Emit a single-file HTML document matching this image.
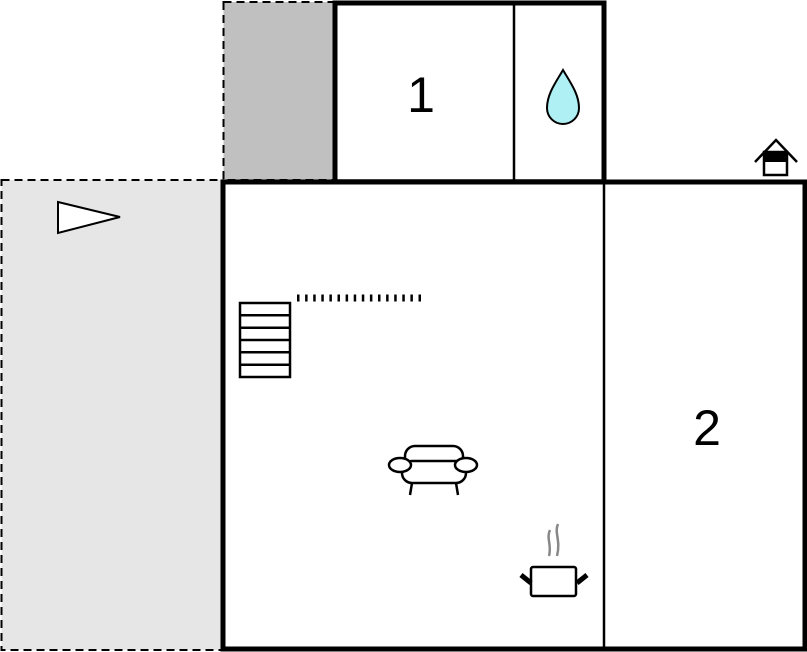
<!DOCTYPE html>
<html><head><meta charset="utf-8"><style>html,body{margin:0;padding:0;background:#fff;}svg{display:block}</style></head>
<body>
<svg width="807" height="652" viewBox="0 0 807 652" xmlns="http://www.w3.org/2000/svg">
<rect x="1.5" y="180" width="222" height="470" fill="#e6e6e6" stroke="#000" stroke-width="2" stroke-dasharray="8,5"/>
<rect x="223.5" y="2" width="112" height="178" fill="#c0c0c0" stroke="#000" stroke-width="2" stroke-dasharray="8,5"/>
<rect x="224" y="180" width="580" height="467" fill="#fff" stroke="none"/>
<rect x="337" y="3" width="266" height="177" fill="#fff"/>
<path d="M223,182 H805 V649 H223 Z" fill="none" stroke="#000" stroke-width="5"/>
<path d="M335,182 V3 H604 V182" fill="none" stroke="#000" stroke-width="5"/>
<path d="M514,3 V180 M604,180 V649 M335,180.5 H605" stroke="#000" stroke-width="2.5" fill="none"/>
<text x="421" y="112" font-family="Liberation Sans, sans-serif" font-size="50" text-anchor="middle">1</text>
<text x="707" y="445" font-family="Liberation Sans, sans-serif" font-size="50" text-anchor="middle">2</text>
<path d="M563,70 C556,82 547,94 547,108 A16,16 0 0 0 579,108 C579,94 570,82 563,70 Z" fill="#aef0f4" stroke="#000" stroke-width="2"/>
<path d="M58,202 L120,217 L58,233 Z" fill="#fff" stroke="#000" stroke-width="2"/>
<g stroke="#000" stroke-width="2.5" fill="none">
<rect x="240" y="303" width="50" height="74"/>
<path d="M240,315.3H290M240,327.7H290M240,340H290M240,352.3H290M240,364.7H290"/>
</g>
<line x1="297" y1="298" x2="424" y2="298" stroke="#000" stroke-width="7" stroke-dasharray="2.5,5.6"/>
<g stroke="#000" stroke-width="2.5" fill="#fff">
<rect x="405" y="446" width="58" height="24" rx="10"/>
<rect x="402" y="461" width="64" height="22" rx="10"/>
<ellipse cx="400" cy="465" rx="11" ry="7"/>
<ellipse cx="466" cy="465" rx="11" ry="7"/>
<path d="M412,483 L410,495 M456,483 L458,495" fill="none"/>
</g>
<rect x="531" y="567" width="45" height="29" rx="2" stroke="#000" stroke-width="2.5" fill="#fff"/>
<path d="M521,575 L531,583 M587,575 L577,583" stroke="#000" stroke-width="5"/>
<path d="M550,530 C546,538 552,545 549,556 M558,524 C554,533 561,540 557,556" stroke="#888" stroke-width="2.5" fill="none"/>
<path d="M755,162 L776,140 L797,162" stroke="#000" stroke-width="2.5" fill="none"/>
<rect x="764" y="152" width="23" height="23" fill="#fff" stroke="#000" stroke-width="2.5"/>
<rect x="764" y="152" width="23" height="10" fill="#000"/>
</svg>
</body></html>
